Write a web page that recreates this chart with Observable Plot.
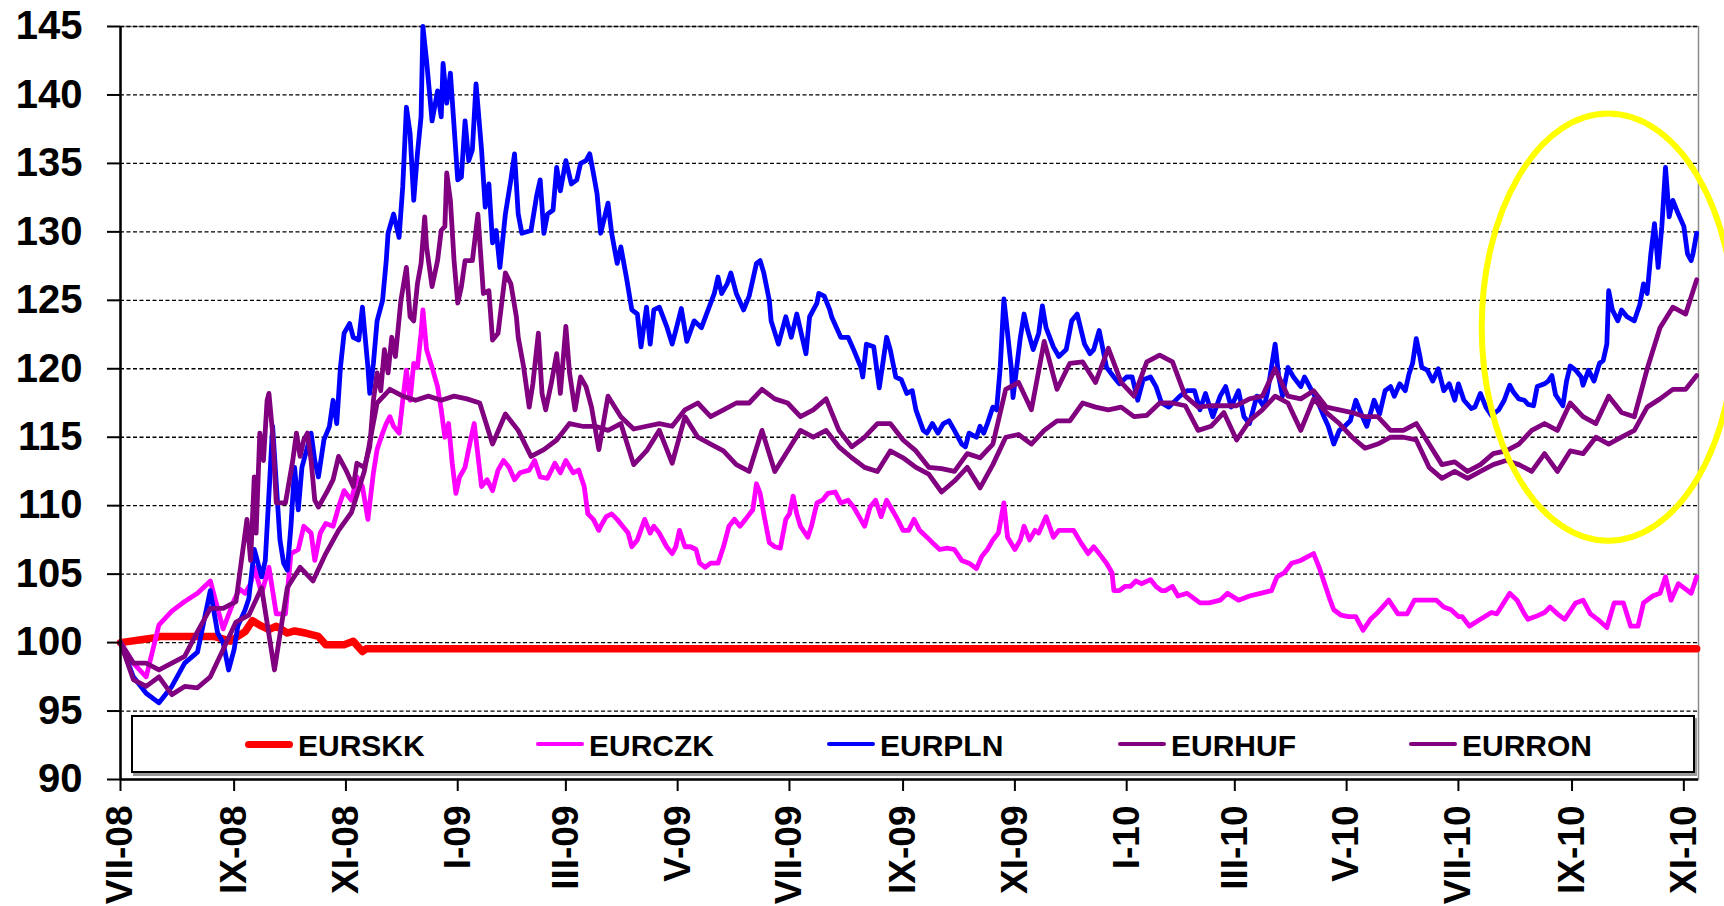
<!DOCTYPE html>
<html>
<head>
<meta charset="utf-8">
<script src="https://cdn.jsdelivr.net/npm/d3@7"></script>
<script src="https://cdn.jsdelivr.net/npm/@observablehq/plot@0.6"></script>
<style>
  body { margin: 0; background: #fff; }
  #wrap { position: relative; width: 1724px; height: 906px; font-family: "Liberation Sans", Arial, sans-serif; }
  #wrap svg { display: block; }
  #legend { position: absolute; left: 131px; top: 715px; width: 1564px; height: 58px; box-sizing: border-box;
            border: 2px solid #000; box-shadow: 2px 3px 0 #9a9a9a; background: #fff;
            display: flex; align-items: center; padding-left: 112px; }
  .item { width: 291px; display: flex; align-items: center; flex: none; }
  .sw { width: 48px; margin-right: 5px; border-radius: 4px; }
  .lab { font-weight: bold; font-size: 30px; line-height: 1; color: #000; position: relative; top: 2px; }
</style>
</head>
<body>
<div id="wrap"></div>
<script>
// ---------- data ----------
// weekly readings
const weekDates = [
"2008-07-01","2008-07-08","2008-07-15","2008-07-22","2008-07-29","2008-08-05","2008-08-12","2008-08-19","2008-08-26",
"2008-09-02","2008-09-09","2008-09-16","2008-09-23","2008-09-30","2008-10-07","2008-10-14","2008-10-21","2008-10-28",
"2008-11-04","2008-11-11","2008-11-18","2008-11-25","2008-12-02","2008-12-09","2008-12-16","2008-12-23","2008-12-30",
"2009-01-06","2009-01-13","2009-01-20","2009-01-27","2009-02-03","2009-02-10","2009-02-17","2009-02-24","2009-03-03",
"2009-03-10","2009-03-17","2009-03-24","2009-03-31","2009-04-07","2009-04-14","2009-04-21","2009-04-28","2009-05-05",
"2009-05-12","2009-05-19","2009-05-26","2009-06-02","2009-06-09","2009-06-16","2009-06-23","2009-06-30","2009-07-07",
"2009-07-14","2009-07-21","2009-07-28","2009-08-04","2009-08-11","2009-08-18","2009-08-25","2009-09-01","2009-09-08",
"2009-09-15","2009-09-22","2009-09-29","2009-10-06","2009-10-13","2009-10-20","2009-10-27","2009-11-03","2009-11-10",
"2009-11-17","2009-11-24","2009-12-01","2009-12-08","2009-12-15","2009-12-22","2009-12-29","2010-01-05","2010-01-12",
"2010-01-19","2010-01-26","2010-02-02","2010-02-09","2010-02-16","2010-02-23","2010-03-02","2010-03-09","2010-03-16",
"2010-03-23","2010-03-30","2010-04-06","2010-04-13","2010-04-20","2010-04-27","2010-05-04","2010-05-11","2010-05-18",
"2010-05-25","2010-06-01","2010-06-08","2010-06-15","2010-06-22","2010-06-29","2010-07-06","2010-07-13","2010-07-20",
"2010-07-27","2010-08-03","2010-08-10","2010-08-17","2010-08-24","2010-08-31","2010-09-07","2010-09-14","2010-09-21",
"2010-09-28","2010-10-05","2010-10-12","2010-10-19","2010-10-26","2010-11-02","2010-11-08"];

const czk = [
100,98.5,97.5,101.3,102.3,103,103.6,104.5,101,103,104,104.5,102.3,102.5,107,106.5,108.5,109.5,
111,111,114,116.5,117.7,120.4,124,117,111,112.5,116,111.1,113,112,113,112.5,113.2,112.5,
112,109.3,108.7,108.5,107,109,108.3,106.5,108.2,106.7,105.6,107,109,109,111.6,107,109,110.7,
107.7,110.5,111,110,108.5,110.4,110,108.2,108.5,107.5,106.8,106.8,105.7,106,107.5,110.2,106.8,108.5,
108.8,107.7,108,107.2,106.4,106.2,103.8,104.4,104.3,104,103.9,103.5,103,103,103.5,103.3,103.5,103.7,
104.8,105.6,106,106.5,103.6,102.2,101.8,101,102.2,102.8,102.3,103,103.1,102.7,102.2,101.3,101.7,102.2,
103.6,102.6,101.8,102.3,102.3,101.5,103,101.7,101.1,102.9,101.2,102.8,104.8,104,104.1,104.8];

const pln = [
100,97.5,96.3,95.6,96.8,98.5,99.3,103.5,100,100.5,103,105,113,105.5,110.5,114,113.5,117,
122.5,123.5,123,130,133.3,133,145,139,141.5,134.5,140.8,129.5,131.3,135.5,130,131,134.7,134.5,
135,135.5,131,128.5,124.3,124.5,124.5,121.8,123,123.5,124.8,126.5,125.7,125,127.8,123,123.5,123,
124.5,125,122.5,121.7,119.6,121,121.5,118.8,117,115.3,116,116,114.5,115.8,117.2,125,121,122,
123.5,120.8,122.5,122.5,121.8,120.1,118.9,118.7,118.3,117.8,117.6,118.4,117,116.7,118.5,118,116.3,117.2,
121.5,119.8,118.8,118.1,115.3,115.5,116.5,115.8,116.5,118.6,119.2,121.5,119.7,118.4,117.7,117.5,118.2,116.7,
118.5,117.7,117.2,118.9,117.5,120.4,118.8,119.5,124.7,123.8,123.6,128,134.5,132,128.3,129.9];

const huf = [
100,98.5,98.5,98,98.5,99,100.8,102.5,102.5,103,109,115,117.5,110.5,115,115,111,113.6,
112,113,119.5,121.5,125,124,129,130,128,127.5,131,123.6,127,124,118.5,118,121,122,
119.5,117,118,116.5,115.6,115.8,116,115.8,117,117.5,116.5,117,117.5,117.5,118.5,117.8,117.5,116.5,
117,117.8,115.5,114.3,115,116,116,114.8,114,112.8,112.7,112.5,113.8,113.5,114.5,118.5,119,117,
122,118.5,120.4,120.5,119,121.5,119,118,120.5,121,120.5,118,117.2,117.3,117.3,117.3,117.8,118,
120,118,117.8,118.4,117.2,117,116.8,116.5,116.5,115.5,115.5,116,114.5,113,113.2,112.5,113,113.8,
114,114.5,115.5,116,115.5,117.5,116.5,116,118,116.8,116.5,120,123,124.5,124,126.5];

const ron = [
100,97.3,96.8,97.5,96.2,96.8,96.7,97.5,99.5,101.5,102,104,98,104,105.5,104.5,106.5,108.2,
109.5,112.5,117.5,118.5,118,117.7,118,117.7,118,117.8,117.5,114.5,116.7,115.5,113.6,114.1,114.8,116,
115.8,115.8,115.5,116,113,114,115.5,113.1,116.5,115,114.5,114,113,112.5,115.5,112.5,114,115.5,
115,115.5,114.3,113.5,112.8,112.5,114,113.5,112.8,112.3,111,111.8,112.8,111.3,113,115,115.2,114.5,
115.5,116.2,116.2,117.5,117.2,117,117.2,116.5,116.6,117.5,117.5,117.3,115.5,115.8,116.8,114.8,116.2,117,
118,117.5,115.5,117.8,116.8,116,115,114.2,114.5,115,115,114.8,112.8,112,112.5,112,112.5,113,
113.3,113,112.5,113.8,112.5,114,113.8,115,114.5,115,115.5,117.2,117.8,118.5,118.5,119.5];

// finer readings [date, value]; inside their span they replace the weekly readings
const plnDetail = [
["2008-08-19",103.8],["2008-08-23",100.7],["2008-08-26",100],["2008-08-29",98],["2008-09-01",99.5],["2008-09-03",101.2],
["2008-09-07",102.4],["2008-09-09",103.2],["2008-09-12",106.8],["2008-09-16",104.8],["2008-09-18",106],["2008-09-21",113.3],
["2008-09-22",115.8],["2008-09-24",111.6],["2008-09-26",107.5],["2008-09-28",105.8],["2008-09-30",105.3],["2008-10-02",108.5],
["2008-10-04",112.8],["2008-10-06",109.7],["2008-10-08",112.8],["2008-10-11",114.3],["2008-10-13",115.3],["2008-10-15",113.3],
["2008-10-17",112.1],["2008-10-20",114.8],["2008-10-23",115.8],["2008-10-25",117.7],["2008-10-27",116],["2008-10-29",120.1],
["2008-10-31",122.6],["2008-11-03",123.3],["2008-11-05",122.3],["2008-11-08",122.1],["2008-11-10",124.5],["2008-11-13",120.1],
["2008-11-14",118.2],["2008-11-16",120.4],["2008-11-18",123.5],["2008-11-21",125],["2008-11-23",127.9],["2008-11-24",129.9],
["2008-11-27",131.3],["2008-11-30",129.6],["2008-12-02",133.3],["2008-12-04",139.1],["2008-12-06",137.2],["2008-12-08",132.3],
["2008-12-10",135.7],["2008-12-12",138.4],["2008-12-13",145],["2008-12-15",142.5],["2008-12-17",139.6],["2008-12-18",138.1],
["2008-12-21",140.3],["2008-12-23",138.4],["2008-12-24",142.3],["2008-12-26",139.4],["2008-12-28",141.6],["2008-12-30",137.7],
["2009-01-01",133.8],["2009-01-03",134],["2009-01-05",138.1],["2009-01-07",135.2],["2009-01-09",136],["2009-01-11",140.8],
["2009-01-14",136],["2009-01-16",131.8],["2009-01-18",133.5],["2009-01-20",129.2],["2009-01-22",130.1],["2009-01-24",127.4],
["2009-01-27",131.3],["2009-01-30",133.8],["2009-02-01",135.7],["2009-02-03",131.3],["2009-02-05",129.9],["2009-02-10",130.1],
["2009-02-13",132.6],["2009-02-15",133.8],["2009-02-17",129.9],["2009-02-19",131.3],["2009-02-22",131.6],["2009-02-24",134.7],
["2009-02-26",133],["2009-03-01",135.2],["2009-03-04",133.5],["2009-03-07",133.8],["2009-03-09",135],["2009-03-12",135.2],
["2009-03-14",135.7],["2009-03-16",134.3],["2009-03-18",132.8],["2009-03-20",129.9],["2009-03-24",132.1],["2009-03-26",129.9],
["2009-03-29",127.7],["2009-03-31",128.9],["2009-04-03",126.7],["2009-04-06",124.3],["2009-04-09",124],["2009-04-11",121.6],
["2009-04-14",124.5],["2009-04-16",121.8],["2009-04-18",124.3],["2009-04-21",124.5],["2009-04-25",123.1],["2009-04-28",121.8],
["2009-04-30",122.8],["2009-05-03",124.4],["2009-05-06",122],["2009-05-10",123.5],["2009-05-14",123],["2009-05-19",124.8],
["2009-05-21",125.5],["2009-05-23",126.7],["2009-05-25",125.5],["2009-05-28",126.2],["2009-05-30",127],["2009-06-02",125.5],
["2009-06-06",124.3],["2009-06-09",125.3],["2009-06-13",127.7],["2009-06-15",127.9],["2009-06-17",127],["2009-06-20",125],
["2009-06-21",123.5],["2009-06-25",121.8],["2009-06-29",123.8],["2009-07-02",122.3],["2009-07-05",124],["2009-07-10",121.1],
["2009-07-12",123.8],["2009-07-16",124.8],["2009-07-17",125.5],["2009-07-20",125.3],["2009-07-23",124.3],["2009-07-24",123.8],
["2009-07-29",122.3],["2009-08-02",122.3],["2009-08-05",121.4],["2009-08-09",120.1],["2009-08-10",119.4],["2009-08-12",121.8],
["2009-08-16",121.6],["2009-08-19",118.6],["2009-08-23",122.3],["2009-08-25",121.4],["2009-08-28",119.4],["2009-08-31",119.2],
["2009-09-03",118.2],["2009-09-06",118.4],["2009-09-08",117],["2009-09-12",115.5],["2009-09-14",115.3],["2009-09-17",116],
["2009-09-20",115.3],["2009-09-23",116],["2009-09-26",116.2],["2009-09-29",115.5],["2009-10-03",114.5],["2009-10-05",114.3],
["2009-10-07",115.3],["2009-10-11",115],["2009-10-13",115.8],["2009-10-15",115.3],["2009-10-17",116],["2009-10-20",117.2],
["2009-10-22",117],["2009-10-24",120.1],["2009-10-26",125.1],["2009-10-30",120.1],["2009-10-31",117.9],["2009-11-02",120.1],
["2009-11-04",122.3],["2009-11-06",124],["2009-11-08",122.8],["2009-11-11",121.4],["2009-11-14",122.6],["2009-11-16",124.6],
["2009-11-18",123],["2009-11-22",121.6],["2009-11-25",120.9],["2009-11-29",121.4],["2009-12-02",123.5],["2009-12-05",124],
["2009-12-09",121.8],["2009-12-12",121.1],["2009-12-14",121.4],["2009-12-17",122.8],["2009-12-21",120.1],["2009-12-25",119.4],
["2009-12-28",118.9],["2010-01-01",119.4],["2010-01-04",119.4],["2010-01-07",117.7],["2010-01-10",119.2],["2010-01-14",119.4],
["2010-01-17",118.7],["2010-01-20",117.5],["2010-01-24",117.2],["2010-01-30",118],["2010-02-03",118.4],["2010-02-07",118.4],
["2010-02-10",117],["2010-02-13",118.2],["2010-02-17",116.5],["2010-02-21",118],["2010-02-24",118.7],["2010-02-27",117.2],
["2010-03-03",118.4],["2010-03-06",116.5],["2010-03-09",116],["2010-03-13",118],["2010-03-17",117.2],["2010-03-19",118.4],
["2010-03-23",121.8],["2010-03-25",119.4],["2010-03-27",118],["2010-03-30",120.1],["2010-04-02",119.4],["2010-04-06",118.7],
["2010-04-08",119.4],["2010-04-12",118.4],["2010-04-15",117.7],["2010-04-18",116.7],["2010-04-21",115.8],["2010-04-24",114.5],
["2010-04-27",115.5],["2010-04-30",115.8],["2010-05-03",116.2],["2010-05-06",117.7],["2010-05-09",116.7],["2010-05-12",115.8],
["2010-05-16",117.7],["2010-05-19",116.7],["2010-05-22",118.4],["2010-05-25",118.7],["2010-05-27",118],["2010-05-30",118.9],
["2010-06-02",118.4],["2010-06-04",119.6],["2010-06-06",120.4],["2010-06-08",122.2],["2010-06-10",120.9],["2010-06-11",120.1],
["2010-06-14",119.9],["2010-06-17",119.1],["2010-06-20",120],["2010-06-23",118.4],["2010-06-26",118.9],["2010-06-29",117.7],
["2010-07-01",118.9],["2010-07-04",117.7],["2010-07-08",117.1],["2010-07-10",117.2],["2010-07-13",118.2],["2010-07-16",117.2],
["2010-07-19",116.6],["2010-07-23",117],["2010-07-26",117.7],["2010-07-29",118.8],["2010-07-31",118.3],["2010-08-03",117.8],
["2010-08-06",117.7],["2010-08-08",117.4],["2010-08-11",117.3],["2010-08-13",118.7],["2010-08-17",118.9],["2010-08-19",119.1],
["2010-08-21",119.5],["2010-08-23",118.1],["2010-08-25",117.7],["2010-08-27",117.3],["2010-08-29",119.1],["2010-08-31",120.2],
["2010-09-03",119.9],["2010-09-06",119.4],["2010-09-07",118.8],["2010-09-10",119.9],["2010-09-13",119.1],["2010-09-16",120.4],
["2010-09-18",120.6],["2010-09-20",121.8],["2010-09-21",125.7],["2010-09-23",124.3],["2010-09-26",123.5],["2010-09-28",124.3],
["2010-10-01",123.8],["2010-10-05",123.5],["2010-10-08",124.7],["2010-10-10",126.2],["2010-10-12",125.5],["2010-10-14",128.4],
["2010-10-16",130.6],["2010-10-18",127.4],["2010-10-20",130.4],["2010-10-22",134.7],["2010-10-24",131.1],["2010-10-26",132.3],
["2010-10-29",131.3],["2010-11-01",130.4],["2010-11-03",128.4],["2010-11-05",127.9],["2010-11-06",128.4],["2010-11-08",129.9]];

const hufDetail = [
["2008-09-08",109],["2008-09-10",106],["2008-09-12",112.1],["2008-09-13",108],["2008-09-15",115.3],["2008-09-17",113.3],
["2008-09-19",117.7],["2008-09-20",118.2],["2008-09-22",115.3],["2008-09-24",110.2],["2008-09-29",110.2],["2008-10-03",113.3],
["2008-10-05",115.3],["2008-10-07",113.6],["2008-10-09",114.8],["2008-10-11",115.3],["2008-10-13",113.3],["2008-10-15",110.4],
["2008-10-17",109.9],["2008-10-22",111.1],["2008-10-25",111.9],["2008-10-28",113.6],["2008-11-01",112.6],["2008-11-05",111.4],
["2008-11-07",113.1],["2008-11-11",112.8],["2008-11-14",114.3],["2008-11-16",117.7],["2008-11-18",119.7],["2008-11-20",118.4],
["2008-11-22",121.4],["2008-11-24",119.7],["2008-11-26",122.3],["2008-11-28",120.9],["2008-12-01",125],["2008-12-04",127.4],
["2008-12-06",123.8],["2008-12-08",123.5],["2008-12-10",126.2],["2008-12-12",127.7],["2008-12-14",131.1],["2008-12-15",128.9],
["2008-12-18",126],["2008-12-21",127.9],["2008-12-23",130.1],["2008-12-25",130.4],["2008-12-26",134.3],["2008-12-28",132.3],
["2008-12-30",127.9],["2009-01-01",124.8],["2009-01-03",126],["2009-01-05",127.9],["2009-01-09",127.9],["2009-01-12",131.3],
["2009-01-15",125.5],["2009-01-18",125.7],["2009-01-20",122.1],["2009-01-23",122.6],["2009-01-27",127],["2009-01-30",126.2],
["2009-02-02",123.8],["2009-02-03",122.3],["2009-02-06",120.1],["2009-02-09",117.2],["2009-02-11",118.9],["2009-02-14",122.6],
["2009-02-16",118.2],["2009-02-18",117],["2009-02-21",118.9],["2009-02-24",121.1],["2009-02-26",118.2],["2009-03-01",123.1],
["2009-03-03",119.7],["2009-03-06",117],["2009-03-09",119.4],["2009-03-12",118.7],["2009-03-15",117.2],["2009-03-19",114.1]];

const czkDetail = [
["2008-09-01",103.1],["2008-09-04",103.9],["2008-09-07",103.6],["2008-09-10",104.3],["2008-09-12",105.5],["2008-09-16",103.6],
["2008-09-20",105.5],["2008-09-24",102.1],["2008-09-29",102.1],["2008-10-02",106.5],["2008-10-06",106.8],["2008-10-09",108.5],
["2008-10-13",108],["2008-10-15",106],["2008-10-18",108],["2008-10-21",108.7],["2008-10-25",108.5],["2008-10-28",109.9],
["2008-10-31",111.1],["2008-11-04",110.4],["2008-11-07",112.1],["2008-11-10",111.4],["2008-11-13",109],["2008-11-16",112.4],
["2008-11-18",114.1],["2008-11-21",115.3],["2008-11-23",116],["2008-11-25",116.5],["2008-11-27",115.8],["2008-11-30",115.3],
["2008-12-02",117.7],["2008-12-04",119.9],["2008-12-06",117.7],["2008-12-08",120.4],["2008-12-10",120.1],["2008-12-12",122.6],
["2008-12-13",124.3],["2008-12-15",121.4],["2008-12-18",120.1],["2008-12-21",118.7],["2008-12-23",117],["2008-12-25",115],
["2008-12-27",116],["2008-12-29",113.1],["2008-12-31",110.9],["2009-01-02",112.1],["2009-01-05",112.8],["2009-01-08",114.8],
["2009-01-10",116],["2009-01-14",111.4],["2009-01-17",111.9],["2009-01-20",111.1],["2009-01-23",112.6],["2009-01-26",113.3],
["2009-01-29",112.8],["2009-02-01",111.9],["2009-02-04",112.4],["2009-02-09",112.6],["2009-02-12",113.3],["2009-02-15",112.1],
["2009-02-19",112],["2009-02-23",113.1],["2009-02-26",112.4],["2009-03-01",113.3],["2009-03-05",112.4],["2009-03-08",112.6],
["2009-03-11",111.4],["2009-03-13",109.4],["2009-03-16",109],["2009-03-19",108.2],["2009-03-20",108.5],["2009-03-23",109.2],
["2009-03-26",109.4],["2009-03-29",109],["2009-04-01",108.5],["2009-04-04",108],["2009-04-06",107],["2009-04-09",107.5],
["2009-04-13",109],["2009-04-16",108],["2009-04-18",108.5],["2009-04-21",108],["2009-04-25",107],["2009-04-28",106.5],
["2009-04-30",107],["2009-05-02",108.2],["2009-05-05",107],["2009-05-08",107],["2009-05-11",106.8],["2009-05-13",105.8],
["2009-05-16",105.5],["2009-05-19",105.8],["2009-05-23",105.8],["2009-05-26",107],["2009-05-29",108.5],["2009-06-01",109],
["2009-06-04",108.5],["2009-06-07",109],["2009-06-11",109.7],["2009-06-13",111.6],["2009-06-15",110.9],["2009-06-17",109.4],
["2009-06-20",107.3],["2009-06-23",107],["2009-06-26",106.9],["2009-06-29",109],["2009-07-01",109.4],["2009-07-03",110.7],
["2009-07-05",109.4],["2009-07-07",108.5],["2009-07-11",107.7],["2009-07-13",108.5],["2009-07-16",110.2],["2009-07-19",110.4],
["2009-07-22",110.9],["2009-07-26",111],["2009-07-29",110.2],["2009-08-02",110.4],["2009-08-05",109.9],["2009-08-08",109.2],
["2009-08-11",108.5],["2009-08-14",109.9],["2009-08-17",110.4],["2009-08-20",109.2],["2009-08-23",110.4],["2009-08-26",109.7],
["2009-08-29",109],["2009-09-01",108.2],["2009-09-04",108.2],["2009-09-07",109],["2009-09-10",108.2],["2009-09-14",107.7],
["2009-09-17",107.3],["2009-09-21",106.8],["2009-09-25",106.9],["2009-09-29",106.8],["2009-10-03",106],["2009-10-07",105.8],
["2009-10-11",105.4],["2009-10-14",106.3],["2009-10-17",106.8],["2009-10-20",107.5],["2009-10-23",108],["2009-10-26",110.2],
["2009-10-28",107.7],["2009-11-01",106.8],["2009-11-04",107.5],["2009-11-06",108.5],["2009-11-09",107.5],["2009-11-12",108.2],
["2009-11-14",108],["2009-11-18",109.2],["2009-11-22",107.7],["2009-11-25",108.2],["2009-11-29",108.2],["2009-12-03",108.2],
["2009-12-07",107.3],["2009-12-11",106.5],["2009-12-14",107],["2009-12-17",106.5],["2009-12-21",105.8],["2009-12-24",105.1],
["2009-12-25",103.8],["2009-12-28",103.8],["2009-12-31",104.1],["2010-01-03",104.1],["2010-01-06",104.5],["2010-01-09",104.3],
["2010-01-14",104.6],["2010-01-17",104.1],["2010-01-20",103.8],["2010-01-22",103.8],["2010-01-26",104.1],["2010-01-29",103.4],
["2010-02-03",103.6],["2010-02-10",102.9],["2010-02-15",102.9],["2010-02-21",103.1],["2010-02-25",103.6],["2010-03-03",103.1],
["2010-03-09",103.4],["2010-03-15",103.6],["2010-03-21",103.8],["2010-03-24",104.8],["2010-03-28",105.1],["2010-04-01",105.8],
["2010-04-06",106],["2010-04-10",106.3],["2010-04-13",106.5],["2010-04-16",105.5],["2010-04-19",104.3],["2010-04-22",103.1],
["2010-04-24",102.4],["2010-04-28",102],["2010-05-02",101.9],["2010-05-06",101.9],["2010-05-10",100.9],["2010-05-14",101.7],
["2010-05-18",102.2],["2010-05-24",103.1],["2010-05-29",102.1],["2010-06-03",102.1],["2010-06-07",103.1],["2010-06-13",103.1],
["2010-06-19",103.1],["2010-06-23",102.6],["2010-06-27",102.4],["2010-07-01",101.9],["2010-07-03",101.9],["2010-07-07",101.2],
["2010-07-13",101.7],["2010-07-19",102.2],["2010-07-22",102.1],["2010-07-29",103.6],["2010-08-02",103.1],["2010-08-06",102.1],
["2010-08-08",101.7],["2010-08-12",101.9],["2010-08-17",102.2],["2010-08-20",102.6],["2010-08-24",102.1],["2010-08-28",101.7],
["2010-09-03",102.9],["2010-09-07",103.1],["2010-09-11",102.1],["2010-09-15",101.7],["2010-09-20",101.1],["2010-09-24",102.9],
["2010-09-29",102.9],["2010-10-03",101.2],["2010-10-07",101.2],["2010-10-10",102.9],["2010-10-15",103.4],["2010-10-19",103.6],
["2010-10-22",104.8],["2010-10-25",103.1],["2010-10-29",104.3],["2010-11-02",103.9],["2010-11-05",103.6],["2010-11-08",104.8]];

const skkDates = ["2008-07-01","2008-07-19","2008-07-23","2008-08-21","2008-08-30","2008-09-07","2008-09-11",
  "2008-09-16","2008-09-20","2008-09-24","2008-09-30","2008-10-04","2008-10-10","2008-10-17","2008-10-21",
  "2008-10-31","2008-11-05","2008-11-10","2008-11-12","2010-11-08"];
const skkValues = [100,100.33,100.45,100.45,100.1,100.8,101.6,101.2,100.95,101.2,100.7,100.85,100.7,100.45,
  99.85,99.85,100.1,99.35,99.55,99.55];

const seriesNames  = ["EURSKK", "EURCZK", "EURPLN", "EURHUF", "EURRON"];
const seriesColors = ["#ff0000", "#ff00ff", "#0000ff", "#800080", "#800080"];
const seriesWidths = [7.5, 4.8, 4.8, 4.8, 4.8];

const yTicks = [90, 95, 100, 105, 110, 115, 120, 125, 130, 135, 140, 145];
const xTickDates  = ["2008-07-01","2008-09-01","2008-11-01","2009-01-01","2009-03-01","2009-05-01","2009-07-01",
  "2009-09-01","2009-11-01","2010-01-01","2010-03-01","2010-05-01","2010-07-01","2010-09-01","2010-11-01"];
const xTickLabels = ["VII-08","IX-08","XI-08","I-09","III-09","V-09","VII-09","IX-09","XI-09","I-10",
  "III-10","V-10","VII-10","IX-10","XI-10"];
const xDomain = ["2008-07-01", "2010-11-09"];

// highlight ellipse (in data terms)
const highlight = { date: "2010-09-21", value: 123, halfDays: 69, halfValue: 15.6 };

// ---------- build table ----------
const rows = [];
skkDates.forEach((d, i) => rows.push({ series: "EURSKK", date: new Date(d), value: skkValues[i] }));
const weekly = { EURCZK: czk, EURPLN: pln, EURHUF: huf, EURRON: ron };
const details = { EURPLN: plnDetail, EURHUF: hufDetail, EURCZK: czkDetail };
for (const [name, vals] of Object.entries(weekly)) {
  if (vals.length !== weekDates.length) console.error(name + " length " + vals.length + " vs " + weekDates.length);
  const det = details[name];
  let lo = -Infinity, hi = -Infinity;
  const pts = [];
  if (det) {
    lo = +new Date(det[0][0]); hi = +new Date(det[det.length - 1][0]);
    det.forEach(([d, v]) => pts.push({ series: name, date: new Date(d), value: v }));
  }
  vals.forEach((v, i) => {
    const d = new Date(weekDates[i]);
    if (+d < lo || +d > hi) pts.push({ series: name, date: d, value: v });
  });
  pts.sort((a, b) => a.date - b.date);
  rows.push(...pts);
}

const tickDateObjs = xTickDates.map(d => new Date(d));
const fmtX = d => xTickLabels[tickDateObjs.findIndex(t => +t === +d)];

const lineMarks = seriesNames.map((name, k) =>
  Plot.line(rows.filter(r => r.series === name), {
    x: "date", y: "value", stroke: seriesColors[k], strokeWidth: seriesWidths[k],
    strokeLinejoin: "round", strokeLinecap: "round"
  })
);

const plot = Plot.plot({
  width: 1724, height: 906,
  marginLeft: 120, marginRight: 26, marginTop: 26, marginBottom: 127,
  style: { fontFamily: "Liberation Sans, Arial, sans-serif", background: "#fff", color: "#000" },
  x: { type: "utc", domain: xDomain.map(d => new Date(d)), axis: null },
  y: { domain: [90, 145], axis: null },
  marks: [
    Plot.frame({ stroke: "#8a8a8a", strokeWidth: 1.5 }),
    Plot.ruleY(yTicks.filter(v => v > 90), { stroke: "#000", strokeWidth: 1.3, strokeDasharray: "4,2.5" }),
    ...lineMarks,
    Plot.ruleX([new Date(xDomain[0])], { stroke: "#000", strokeWidth: 2.5 }),
    Plot.ruleY([90], { stroke: "#000", strokeWidth: 2.5 }),
    Plot.axisY({ ticks: yTicks, label: null, tickSize: 13, tickPadding: 25, fontSize: 40, fontWeight: "bold",
                 stroke: "#000", strokeWidth: 2, fill: "#000" }),
    Plot.axisX({ ticks: tickDateObjs, label: null, tickFormat: fmtX, tickSize: 12, tickPadding: 14, tickRotate: -90,
                 fontSize: 37, fontWeight: "bold", stroke: "#000", strokeWidth: 2, fill: "#000" })
  ]
});

// yellow highlight ellipse, positioned through the plot's scales
const sx = plot.scale("x"), sy = plot.scale("y");
const c = new Date(highlight.date);
const cx = sx.apply(c);
const rx = sx.apply(d3.utcDay.offset(c, highlight.halfDays)) - cx;
const cy = sy.apply(highlight.value);
const ry = sy.apply(highlight.value - highlight.halfValue) - cy;
d3.select(plot).append("ellipse")
  .attr("cx", cx).attr("cy", cy).attr("rx", rx).attr("ry", ry)
  .attr("fill", "none").attr("stroke", "#ffff00").attr("stroke-width", 6);

const wrap = document.getElementById("wrap");
wrap.appendChild(plot);

// legend (inside the plot area, as in the reference)
const legend = document.createElement("div");
legend.id = "legend";
seriesNames.forEach((name, k) => {
  const item = document.createElement("div");
  item.className = "item";
  const sw = document.createElement("div");
  sw.className = "sw";
  sw.style.borderTop = (k === 0 ? 7 : 4) + "px solid " + seriesColors[k];
  const lab = document.createElement("span");
  lab.className = "lab";
  lab.textContent = name;
  item.appendChild(sw); item.appendChild(lab);
  legend.appendChild(item);
});
wrap.appendChild(legend);
</script>
</body>
</html>
